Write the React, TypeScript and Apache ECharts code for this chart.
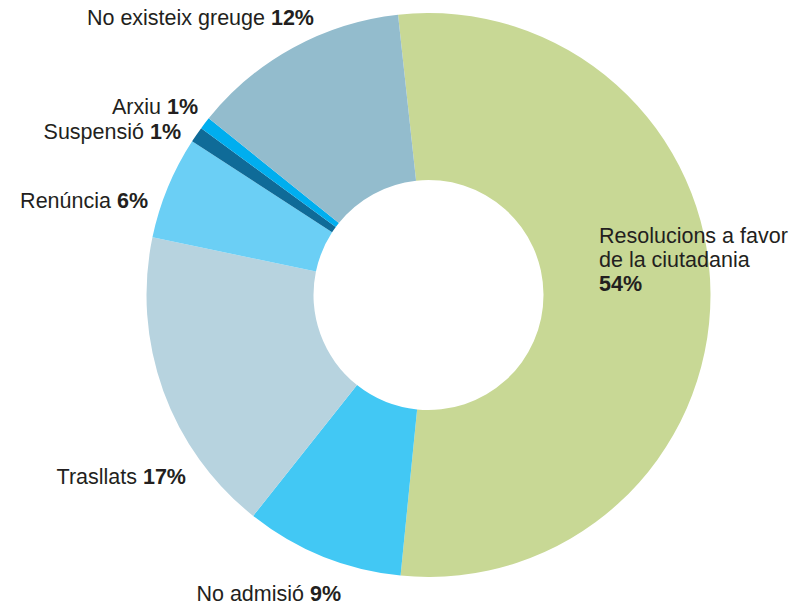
import React, { useEffect, useRef } from "react";
import * as echarts from "echarts";

const categories = [
  "Resolucions a favor\nde la ciutadania",
  "No admisió",
  "Trasllats",
  "Renúncia",
  "Suspensió",
  "Arxiu",
  "No existeix greuge",
];
const values = [53.3, 9.1, 17.6, 5.9, 0.9, 0.7, 12.5];
const shownPercent = ["54%", "9%", "17%", "6%", "1%", "1%", "12%"];
const colors = ["#c8d895", "#42c8f4", "#b7d3df", "#6bcff5", "#0f6b98", "#00aeef", "#93bccd"];

// label anchor placement (x, y, align, verticalAlign)
const labelPlacement: [number, number, string, string][] = [
  [599, 223.5, "left", "top"],
  [341, 594, "right", "middle"],
  [186, 477, "right", "middle"],
  [148, 200.5, "right", "middle"],
  [181, 131.5, "right", "middle"],
  [198, 106.5, "right", "middle"],
  [314, 18, "right", "middle"],
];

export default function App() {
  const ref = useRef<HTMLDivElement>(null);
  useEffect(() => {
    document.body.style.margin = "0";
    const chart = echarts.init(ref.current!, null, { renderer: "svg" });
    const font = "'Liberation Sans', Arial, Helvetica, sans-serif";
    chart.setOption({
      animation: false,
      series: [
        {
          type: "pie",
          center: [428.5, 295],
          radius: [115, 282],
          startAngle: 96.2,
          clockwise: true,
          avoidLabelOverlap: false,
          labelLine: { show: false },
          emphasis: { disabled: true },
          label: {
            show: true,
            position: "outside",
            formatter: (p: any) => {
              const lines = String(p.name).split("\n");
              if (lines.length > 1) {
                return lines.map((l) => `{n|${l}}`).join("\n") + `\n{p|${shownPercent[p.dataIndex]}}`;
              }
              return `{n|${p.name} }{p|${shownPercent[p.dataIndex]}}`;
            },
            rich: {
              n: { fontFamily: font, fontSize: 21.5, color: "#231f20", lineHeight: 24 },
              p: { fontFamily: font, fontSize: 21.5, fontWeight: "bold", color: "#231f20", lineHeight: 24 },
            },
          },
          labelLayout: (params: any) => {
            const pl = labelPlacement[params.dataIndex];
            return { x: pl[0], y: pl[1], align: pl[2], verticalAlign: pl[3], hideOverlap: false, moveOverlap: null };
          },
          data: categories.map((c, i) => ({
            name: c,
            value: values[i],
            itemStyle: { color: colors[i] },
          })),
        },
      ],
    });
    return () => chart.dispose();
  }, []);
  return <div ref={ref} style={{ width: 803, height: 607 }} />;
}
